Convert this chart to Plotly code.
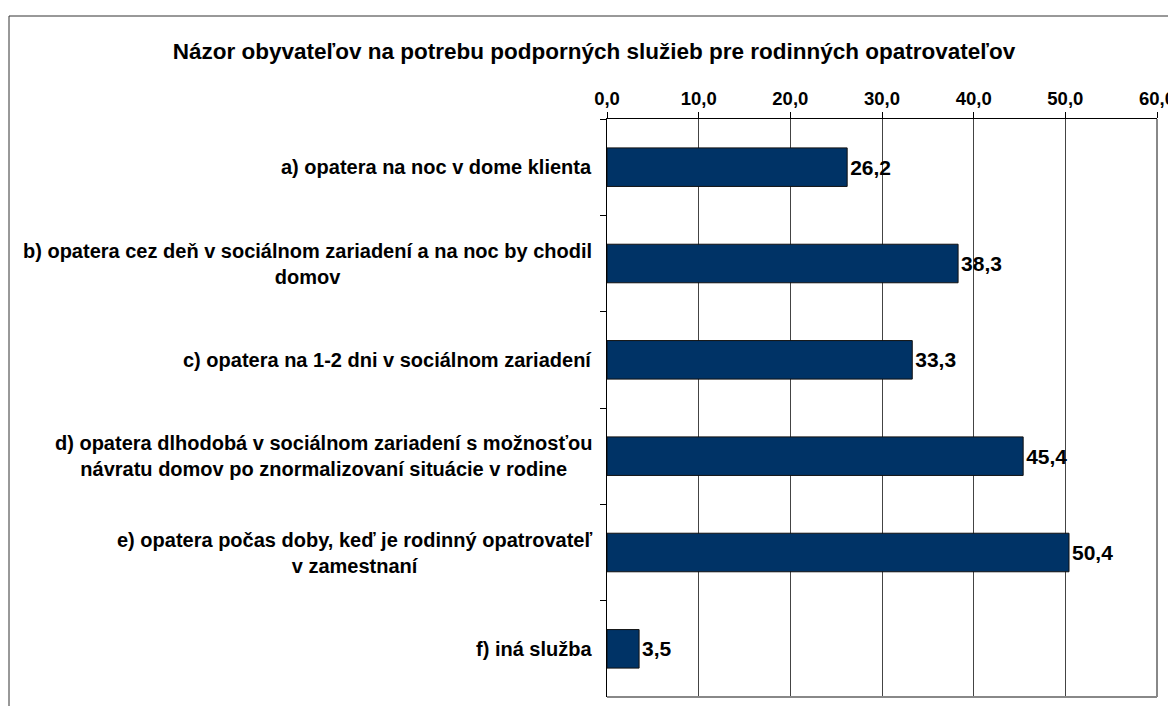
import plotly.graph_objects as go

categories = [
    "a) opatera na noc v dome klienta",
    "b) opatera cez deň v sociálnom zariadení a na noc by chodil<br>domov",
    "c) opatera na 1-2 dni v sociálnom zariadení",
    "d) opatera dlhodobá v sociálnom zariadení s možnosťou<br>návratu domov po znormalizovaní situácie v rodine",
    "e) opatera počas doby, keď je rodinný opatrovateľ<br>v zamestnaní",
    "f) iná služba",
]
values = [26.2, 38.3, 33.3, 45.4, 50.4, 3.5]
tick_values = [0, 10, 20, 30, 40, 50, 60]
title_text = "Názor obyvateľov na potrebu podporných služieb pre rodinných opatrovateľov"

FONT = "Liberation Sans, Arial, sans-serif"
OFF = 8  # body margin of the page
W, H = 1176 - OFF, 706 - OFF
ML, MR, MT, MB = 607 - OFF, 19, 119 - OFF, 9

fig = go.Figure()
fig.add_trace(go.Bar(
    x=values, y=categories, orientation="h",
    marker=dict(color="#003366", line=dict(color="#111111", width=1)),
    width=0.4,
    text=values, texttemplate="%{x:.1f}", textposition="outside",
    constraintext="none", cliponaxis=False,
    textfont=dict(family=FONT, size=21, color="black", weight="bold"),
    hoverinfo="skip",
))

for c in categories:
    fig.add_annotation(
        x=0, xref="paper", y=c, yref="y", text=c, showarrow=False,
        xanchor="right", yanchor="middle", align="center", xshift=-13,
        font=dict(family=FONT, size=20, color="black", weight="bold"),
    )

pw = W - ML - MR
ph = H - MT - MB
# outer frame
fig.add_shape(type="rect", xref="paper", yref="paper",
              x0=(9 - OFF - ML) / pw, x1=(1200 - OFF - ML) / pw,
              y0=-(730 - 706) / ph, y1=1 + (MT - (16 - OFF)) / ph,
              line=dict(color="#333333", width=1), layer="below")
# gray right and bottom plot borders
fig.add_shape(type="line", xref="paper", yref="paper", x0=0, x1=1, y0=0, y1=0,
              line=dict(color="#888888", width=2))
fig.add_shape(type="line", xref="paper", yref="paper", x0=1, x1=1, y0=0, y1=1,
              line=dict(color="#888888", width=2))

fig.update_layout(
    width=W, height=H,
    margin=dict(l=ML, r=MR, t=MT, b=MB, autoexpand=False),
    paper_bgcolor="white", plot_bgcolor="white",
    separators=",.",
    showlegend=False,
    bargap=0.6,
    title=dict(text=title_text, x=(594 - OFF) / W, xanchor="center", xref="container",
               y=1 - (51 - OFF) / H, yanchor="middle", yref="container",
               font=dict(family=FONT, size=22.5, color="black", weight="bold")),
    xaxis=dict(
        side="top", range=[0, 60], tickvals=tick_values, tickformat=".1f",
        showgrid=True, gridcolor="#444444", gridwidth=1,
        showline=True, linecolor="black", linewidth=1,
        ticks="outside", ticklen=6, tickcolor="black",
        tickfont=dict(family=FONT, size=18.5, color="black", weight="bold"),
        zeroline=False, fixedrange=True, automargin=False,
    ),
    yaxis=dict(
        autorange="reversed", showticklabels=False,
        tickson="boundaries", ticks="outside", ticklen=6, tickcolor="black",
        showline=True, linecolor="black", linewidth=1,
        showgrid=False, zeroline=False, fixedrange=True, automargin=False,
    ),
)

fig.write_html("out.html")
